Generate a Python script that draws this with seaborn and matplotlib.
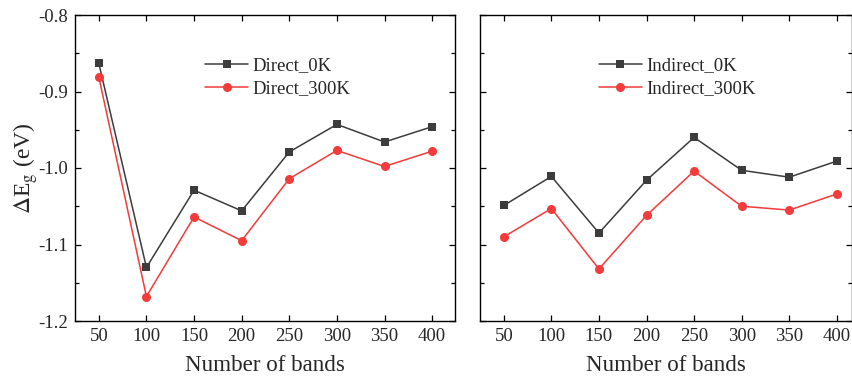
import numpy as np
import pandas as pd
import matplotlib
matplotlib.use("Agg")
import matplotlib.pyplot as plt
from matplotlib.ticker import MultipleLocator
import seaborn as sns

bands = [50, 100, 150, 200, 250, 300, 350, 400]
direct_0k = [-0.863, -1.130, -1.029, -1.056, -0.979, -0.943, -0.966, -0.946]
direct_300k = [-0.881, -1.168, -1.064, -1.095, -1.014, -0.977, -0.998, -0.978]
indirect_0k = [-1.049, -1.011, -1.085, -1.016, -0.960, -1.003, -1.012, -0.991]
indirect_300k = [-1.090, -1.053, -1.132, -1.062, -1.004, -1.050, -1.055, -1.034]
yticks = [-1.2, -1.1, -1.0, -0.9, -0.8]

sns.set_style("ticks")
plt.rcParams['font.family'] = ['Liberation Serif', 'DejaVu Serif']
plt.rcParams['mathtext.fontset'] = 'stix'
plt.rcParams['axes.unicode_minus'] = False

W, H = 853, 382
fig = plt.figure(figsize=(W / 100, H / 100), dpi=100)
ax1 = fig.add_axes([75 / W, 61 / H, 380 / W, 306 / H])
ax2 = fig.add_axes([480 / W, 61 / H, 372.5 / W, 306 / H])

dark = '#3c3c3c'
red = '#f23b3b'

def panel(ax, y0, y1, l0, l1, xmax, lx):
    sns.lineplot(x=bands, y=y0, ax=ax, color=dark, marker='s', markersize=5.5,
                 markeredgewidth=0, linewidth=1.1, label=l0)
    sns.lineplot(x=bands, y=y1, ax=ax, color=red, marker='o', markersize=6.5,
                 markeredgewidth=0, linewidth=1.1, label=l1)
    ax.set_xlim(25, xmax)
    ax.set_ylim(-1.2, -0.8)
    ax.set_xticks(bands)
    ax.set_yticks(yticks)
    ax.yaxis.set_minor_locator(MultipleLocator(0.05))
    ax.tick_params(which='both', direction='in', top=True, right=True,
                   labelsize=13.5, width=0.9, color='black', pad=5)
    ax.tick_params(which='major', length=4.5)
    ax.tick_params(which='minor', length=3, top=False, bottom=False)
    for s in ax.spines.values():
        s.set_linewidth(1.0)
        s.set_color('black')
    ax.set_xlabel('Number of bands', fontsize=16.6, labelpad=7)
    ax.legend(loc='upper left', bbox_to_anchor=(lx, 0.862), frameon=False,
              fontsize=13.5, handlelength=2.3, handletextpad=0.25,
              labelspacing=0.3, borderaxespad=0, borderpad=0)

panel(ax1, direct_0k, direct_300k, 'Direct_0K', 'Direct_300K', 424, 0.342)
panel(ax2, indirect_0k, indirect_300k, 'Indirect_0K', 'Indirect_300K', 416.5, 0.319)
ax1.set_yticklabels(['%.1f' % v for v in yticks])
ax1.set_ylabel(r'$\Delta$E$_{\rm g}$ (eV)', fontsize=17, labelpad=-1)
ax2.set_yticklabels([])
ax2.set_ylabel('')

fig.savefig('out.png', dpi=100)
